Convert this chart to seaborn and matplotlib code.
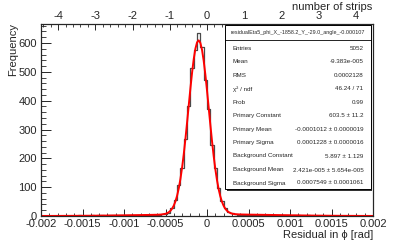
import numpy as np
import pandas as pd
import matplotlib
matplotlib.use("Agg")
import matplotlib.pyplot as plt
from matplotlib.patches import Rectangle
from matplotlib.ticker import FixedLocator, MultipleLocator
import seaborn as sns

# histogram: 100 bins between -0.002 and 0.002 rad
bin_lo, bin_hi, n_bins = -0.002, 0.002, 100
left_tail = [0, 0, 1, 0, 0, 1, 0, 1, 1, 0, 1, 2, 1, 1, 0, 2, 1, 3, 2, 1,
             2, 3, 2, 4, 2, 3, 3, 2, 4, 5, 3, 4, 2, 5, 4]
peak = [5, 6, 8, 12, 28, 55, 108, 166, 268, 380, 513, 576, 634, 586, 472,
        370, 246, 168, 97, 52, 27, 14, 9, 6, 5, 4]
right_tail = [5, 4, 3, 5, 4, 3, 4, 2, 3, 3, 2, 3, 2, 2, 1, 2, 3, 1, 1, 2,
              1, 1, 0, 1, 1, 0, 1, 0, 1, 0, 0, 1, 0, 0, 0, 1, 0, 0, 0]

# red fit curve
fit_x = [-0.002, -0.0019, -0.0018, -0.0017, -0.0016, -0.0015, -0.0014, -0.0013,
         -0.0012, -0.0011, -0.001, -0.0009, -0.0008, -0.0007, -0.0006, -0.00055,
         -0.0005, -0.00048, -0.00046, -0.00044, -0.00042, -0.0004, -0.00038,
         -0.00036, -0.00034, -0.00032, -0.0003, -0.00028, -0.00026, -0.00024,
         -0.00022, -0.0002, -0.00018, -0.00016, -0.00014, -0.00012, -0.0001,
         -0.00008, -0.00006, -0.00004, -0.00002, 0.0, 0.00002, 0.00004, 0.00006,
         0.00008, 0.0001, 0.00012, 0.00014, 0.00016, 0.00018, 0.0002, 0.00022,
         0.00024, 0.00026, 0.00028, 0.0003, 0.00032, 0.00034, 0.00036, 0.0004,
         0.0005, 0.0006, 0.0007, 0.0008, 0.0009, 0.001, 0.0011, 0.0012, 0.0013,
         0.0014, 0.0015, 0.0016, 0.0017, 0.0018, 0.0019, 0.002]
fit_y = [0.16, 0.23, 0.32, 0.43, 0.58, 0.77, 1.0, 1.27, 1.59, 1.95, 2.35, 2.79,
         3.25, 3.72, 4.35, 5.2, 7.7, 9.9, 13.2, 18.3, 25.7, 36.3, 50.9, 70.7,
         96.3, 128.7, 168.2, 214.5, 267.1, 324.2, 383.6, 442.3, 497.0, 543.9,
         579.9, 602.3, 609.3, 600.4, 576.4, 538.9, 490.9, 435.7, 376.7, 317.5,
         260.9, 209.1, 163.6, 125.1, 93.5, 68.6, 49.7, 35.6, 25.5, 18.4, 13.6,
         10.5, 8.5, 7.2, 6.4, 5.9, 5.4, 4.83, 4.41, 3.95, 3.48, 3.01, 2.56, 2.14,
         1.75, 1.41, 1.12, 0.87, 0.67, 0.50, 0.37, 0.27, 0.19]

x_ticks = [-0.002, -0.0015, -0.001, -0.0005, 0, 0.0005, 0.001, 0.0015, 0.002]
x_labels = ["-0.002", "-0.0015", "-0.001", "-0.0005", "0", "0.0005", "0.001", "0.0015", "0.002"]
strip_ticks = [-4, -3, -2, -1, 0, 1, 2, 3, 4]
strip_range = 4.46

stats_title = "residualEta5_phi_X_-1858.2_Y_-29.0_angle_-0.000107"
stats_names = ["Entries", "Mean", "RMS", "\u03c7\u00b2 / ndf", "Prob",
               "Primary Constant", "Primary Mean", "Primary Sigma",
               "Background Constant", "Background Mean", "Background Sigma"]
stats_values = ["5052", "-9.383e-005", "0.0002128", "46.24 / 71", "0.99",
                "603.5 \u00b1 11.2", "-0.0001012 \u00b1 0.0000019",
                "0.0001228 \u00b1 0.0000016", "5.897 \u00b1 1.129",
                "2.421e-005 \u00b1 5.654e-005", "0.0007549 \u00b1 0.0001061"]

sns.set_style("ticks")
plt.rcParams['font.family'] = ['Liberation Sans', 'DejaVu Sans']
plt.rcParams['axes.unicode_minus'] = False

W, H = 415, 240
fig = plt.figure(figsize=(W / 100, H / 100), dpi=100)
fig.patch.set_facecolor("white")


def fx(px):
    return px / W


def fy(py):
    return 1 - py / H


ax = fig.add_axes([fx(41), fy(216), (373 - 41) / W, (216 - 24) / H])

edges = np.linspace(bin_lo, bin_hi, n_bins + 1)
hist = pd.DataFrame({"residual": 0.5 * (edges[:-1] + edges[1:]),
                     "count": left_tail + peak + right_tail})

sns.histplot(data=hist, x="residual", weights="count", bins=n_bins,
             binrange=(bin_lo, bin_hi), element="step", fill=False,
             color="#4a4a4a", linewidth=0.9, ax=ax)
sns.lineplot(x=fit_x, y=fit_y, color="red", linewidth=1.4, sort=False,
             estimator=None, ax=ax)

ax.set_xlim(bin_lo, bin_hi)
ax.set_ylim(0, 666)
ax.set_xlabel("")
ax.set_ylabel("")
for s in ax.spines.values():
    s.set_linewidth(0.8)
    s.set_color("black")

ax.xaxis.set_major_locator(FixedLocator(x_ticks))
ax.set_xticklabels(x_labels)
ax.xaxis.set_minor_locator(MultipleLocator(0.0001))
ax.yaxis.set_major_locator(MultipleLocator(100))
ax.yaxis.set_minor_locator(MultipleLocator(20))
ax.tick_params(axis="x", which="major", direction="in", length=5, width=0.7,
               labelsize=8, pad=2, top=False)
ax.tick_params(axis="x", which="minor", direction="in", length=2.5, width=0.6, top=False)
ax.tick_params(axis="y", which="major", direction="in", length=7, width=0.7,
               labelsize=8, pad=3, right=False)
ax.tick_params(axis="y", which="minor", direction="in", length=3.5, width=0.6, right=False)

ax2 = ax.twiny()
ax2.set_xlim(-strip_range, strip_range)
ax2.xaxis.set_major_locator(FixedLocator(strip_ticks))
ax2.xaxis.set_minor_locator(MultipleLocator(0.2))
ax2.tick_params(axis="x", which="major", direction="in", length=4, width=0.7,
                labelsize=8, pad=2)
ax2.tick_params(axis="x", which="minor", direction="in", length=2, width=0.6)
for s in ax2.spines.values():
    s.set_linewidth(0.8)

fig.text(fx(13.5), fy(23), "Frequency", rotation=90, ha="center", va="top", fontsize=8)
fig.text(fx(373), fy(239.5), "Residual in \u03d5 [rad]", ha="right", va="bottom", fontsize=8)
fig.text(fx(372), fy(7), "number of strips", ha="right", va="center", fontsize=8)

# stats box with shadow
bx0, bx1, by0, by1 = 225, 370.5, 25, 189
fig.add_artist(Rectangle((fx(bx0 + 1.5), fy(by1 + 1.5)), (bx1 - bx0) / W, (by1 - by0) / H,
                         transform=fig.transFigure, facecolor="#333333",
                         edgecolor="none", zorder=5))
fig.add_artist(Rectangle((fx(bx0), fy(by1)), (bx1 - bx0) / W, (by1 - by0) / H,
                         transform=fig.transFigure, facecolor="white",
                         edgecolor="black", linewidth=0.7, zorder=6))
fig.add_artist(plt.Line2D([fx(bx0), fx(bx1)], [fy(40), fy(40)], color="black",
                          linewidth=0.6, transform=fig.transFigure, zorder=7))
fig.text(fx((bx0 + bx1) / 2), fy(32.5), stats_title, ha="center", va="center",
         fontsize=3.9, zorder=8)
row_y = [48.3, 61.7, 75.7, 89, 102.3, 115.7, 129.3, 142.7, 156, 170, 183]
for yy, name, val in zip(row_y, stats_names, stats_values):
    fig.text(fx(232.7), fy(yy), name, ha="left", va="center", fontsize=4.5, zorder=8)
    fig.text(fx(363.3), fy(yy), val, ha="right", va="center", fontsize=4.5, zorder=8)

fig.savefig("out.png", dpi=100)
